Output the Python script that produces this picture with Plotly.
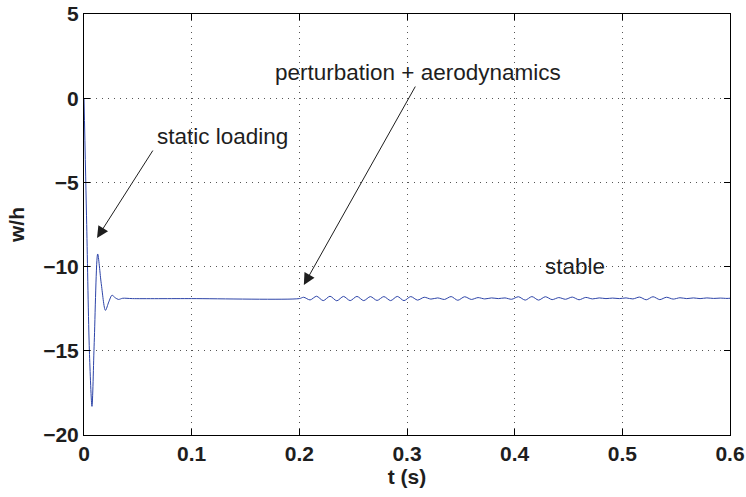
import plotly.graph_objects as go

# Time (s) and displacement w/h (extrema of the response)
t_transient = [0.0, 0.0025, 0.0050, 0.0074, 0.0095, 0.0127, 0.0160, 0.0199, 0.0230, 0.0260, 0.0290,
               0.0320, 0.0360, 0.0450, 0.1000, 0.2000]
w_transient = [0.0, -7.5, -15.0, -18.3, -14.5, -9.25, -11.0, -12.6, -12.1, -11.7, -11.85,
               -11.95, -11.88, -11.9, -11.9, -11.9]

t_perturb = [0.2040, 0.2100, 0.2160, 0.2222, 0.2285, 0.2348, 0.2410, 0.2472, 0.2535, 0.2598,
             0.2660, 0.2722, 0.2785, 0.2848, 0.2910, 0.2972, 0.3035, 0.3098, 0.3160, 0.3222,
             0.3285, 0.3348, 0.3410, 0.3472, 0.3535, 0.3598, 0.3660, 0.3722, 0.3785, 0.3848,
             0.3910, 0.3972, 0.4035, 0.4098, 0.4160, 0.4222, 0.4285, 0.4348, 0.4410, 0.4472,
             0.4535, 0.4598, 0.4660, 0.4722, 0.4785, 0.4848, 0.4910, 0.4972, 0.5035, 0.5098,
             0.5160, 0.5222, 0.5285, 0.5348, 0.5410, 0.5472, 0.5535, 0.5598, 0.5660, 0.5722,
             0.5785, 0.5848, 0.5910, 0.5972, 0.6000]
w_perturb = [-11.82, -11.98, -11.76, -12.02, -11.76, -12.03, -11.77, -12.02, -11.77, -12.02,
             -11.78, -12.01, -11.78, -12.02, -11.77, -12.02, -11.78, -11.99, -11.82, -11.93,
             -11.86, -11.95, -11.78, -12.0, -11.79, -11.95, -11.84, -11.92, -11.86, -11.90,
             -11.86, -11.94, -11.79, -11.99, -11.78, -11.99, -11.79, -11.96, -11.84, -11.94,
             -11.81, -11.97, -11.83, -11.92, -11.86, -11.90, -11.87, -11.90, -11.86, -11.92,
             -11.81, -11.97, -11.79, -11.96, -11.82, -11.93, -11.85, -11.90, -11.86, -11.90,
             -11.86, -11.89, -11.87, -11.89, -11.88]

t_all = t_transient + t_perturb
w_all = w_transient + w_perturb

x_ticks = [0, 0.1, 0.2, 0.3, 0.4, 0.5, 0.6]
x_tick_labels = ["0", "0.1", "0.2", "0.3", "0.4", "0.5", "0.6"]
y_ticks = [5, 0, -5, -10, -15, -20]
y_tick_labels = ["5", "0", "\u22125", "\u221210", "\u221215", "\u221220"]

FONT = "Liberation Sans, Arial, Helvetica, sans-serif"
TXT = "#1e1e1e"

fig = go.Figure()
fig.add_trace(go.Scatter(x=t_all, y=w_all, mode="lines",
                         line=dict(color="#2d44a8", width=1, shape="spline", smoothing=0.8),
                         showlegend=False, hoverinfo="skip"))

axis_common = dict(showline=True, linecolor="black", linewidth=1, mirror="ticks",
                   ticks="inside", ticklen=6, tickcolor="black",
                   showgrid=True, gridcolor="#555555", griddash="1px,5px", gridwidth=1,
                   zeroline=False, ticklabeloverflow="allow",
                   tickfont=dict(family=FONT, size=21, color=TXT, weight="bold"))

fig.update_xaxes(range=[0, 0.6], tickvals=x_ticks, ticktext=x_tick_labels,
                 title=dict(text="<b>t (s)</b>", font=dict(family=FONT, size=21, color=TXT),
                            standoff=2),
                 **axis_common)
fig.update_yaxes(range=[-20, 5], tickvals=y_ticks, ticktext=y_tick_labels,
                 title=dict(text="<b>w/h</b>", font=dict(family=FONT, size=21, color=TXT),
                            standoff=12),
                 **axis_common)

ann_font = dict(family=FONT, size=22.5, color=TXT)
fig.add_annotation(x=0.0121, y=-8.30, ax=0.0648, ay=-3.02, xref="x", yref="y",
                   axref="x", ayref="y", text="", showarrow=True,
                   arrowhead=2, arrowsize=2.3, arrowwidth=1, arrowcolor=TXT)
fig.add_annotation(x=0.0657, y=-2.30, xref="x", yref="y", text="static loading",
                   showarrow=False, xanchor="left", yanchor="middle", font=ann_font)
fig.add_annotation(x=0.2042, y=-11.09, ax=0.3085, ay=0.78, xref="x", yref="y",
                   axref="x", ayref="y", text="", showarrow=True,
                   arrowhead=2, arrowsize=2.3, arrowwidth=1, arrowcolor=TXT)
fig.add_annotation(x=0.1753, y=1.50, xref="x", yref="y", text="perturbation + aerodynamics",
                   showarrow=False, xanchor="left", yanchor="middle", font=ann_font)
fig.add_annotation(x=0.4263, y=-10.02, xref="x", yref="y", text="stable",
                   showarrow=False, xanchor="left", yanchor="middle", font=ann_font)

fig.update_layout(width=746, height=497,
                  margin=dict(l=84, r=16, t=14, b=62, autoexpand=False),
                  paper_bgcolor="white", plot_bgcolor="white",
                  font=dict(family=FONT, color=TXT))

# remove the browser's default 8px body margin so the figure sits at the page corner
fig.write_html("out.html", config={"displayModeBar": False},
               post_script="document.body.style.margin='0';document.body.style.overflow='hidden';")
